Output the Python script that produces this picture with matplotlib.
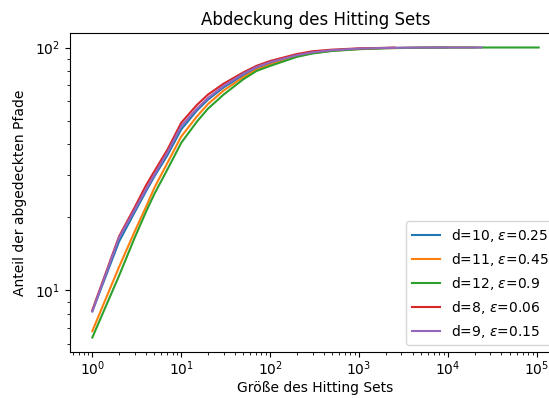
import matplotlib
matplotlib.use("Agg")
import matplotlib.pyplot as plt

# Hitting-set sizes and covered-path percentages per configuration
x_d10 = [1, 2, 3, 4, 5, 7, 10, 15, 20, 30, 50, 70, 100, 200, 300, 500, 1000, 2000, 5000, 10000]
y_d10 = [8.2, 15.9, 21.0, 25.5, 29.5, 36.0, 46.0, 55.0, 61.0, 68.5, 77.0, 82.0, 86.0, 92.5, 95.0, 97.3, 98.8, 99.5, 99.9, 100.0]

x_d11 = [1, 2, 3, 4, 5, 7, 10, 15, 20, 30, 50, 70, 100, 200, 300, 500, 1000, 2000, 5000, 10000, 20000]
y_d11 = [6.8, 12.5, 17.5, 22.0, 26.5, 33.5, 43.0, 52.0, 58.5, 66.5, 75.5, 81.0, 85.0, 92.0, 94.8, 97.0, 98.6, 99.4, 99.8, 100.0, 100.0]

x_d12 = [1, 2, 3, 4, 5, 7, 10, 15, 20, 30, 50, 70, 100, 200, 300, 500, 1000, 2000, 5000, 10000, 30000, 105000]
y_d12 = [6.4, 11.5, 16.5, 21.0, 25.0, 31.5, 40.5, 49.5, 56.0, 64.0, 74.0, 80.0, 84.0, 91.5, 94.5, 96.8, 98.4, 99.3, 99.8, 99.95, 100.0, 100.0]

x_d8 = [1, 2, 3, 4, 5, 7, 10, 15, 20, 30, 50, 70, 100, 200, 300, 500, 1000, 2000, 2500]
y_d8 = [8.3, 16.7, 22.0, 27.0, 31.0, 38.0, 49.0, 58.0, 64.0, 71.0, 79.0, 84.0, 88.0, 94.0, 96.5, 98.0, 99.2, 99.7, 100.0]

x_d9 = [1, 2, 3, 4, 5, 7, 10, 15, 20, 30, 50, 70, 100, 200, 300, 500, 1000, 2000, 5000, 10000, 24000]
y_d9 = [8.2, 16.5, 21.5, 26.0, 30.0, 37.0, 47.5, 56.0, 62.0, 69.5, 78.0, 83.0, 87.0, 93.0, 95.5, 97.5, 99.0, 99.6, 99.9, 100.0, 100.0]

labels = [r"d=10, $\varepsilon$=0.25", r"d=11, $\varepsilon$=0.45", r"d=12, $\varepsilon$=0.9",
          r"d=8, $\varepsilon$=0.06", r"d=9, $\varepsilon$=0.15"]

fig = plt.figure(figsize=(5.49, 3.98), dpi=100)
ax = fig.add_axes([70 / 549, 46 / 398, 491 / 549, 319 / 398])

for xs, ys, lab in zip([x_d10, x_d11, x_d12, x_d8, x_d9],
                       [y_d10, y_d11, y_d12, y_d8, y_d9], labels):
    ax.plot(xs, ys, label=lab)

ax.set_xscale("log")
ax.set_yscale("log")
ax.tick_params(axis="x", which="major", pad=2)
ax.set_title("Abdeckung des Hitting Sets")
ax.set_xlabel("Größe des Hitting Sets", labelpad=2)
ax.set_ylabel("Anteil der abgedeckten Pfade", labelpad=6)
ax.legend(loc="lower right")

fig.savefig("out.png", dpi=100)
